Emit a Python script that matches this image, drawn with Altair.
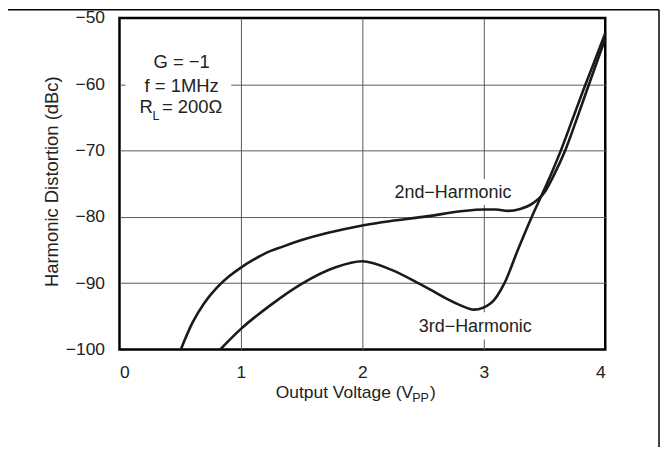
import altair as alt
import pandas as pd

# ---------------- data ----------------
x_ticks = [0, 1, 2, 3, 4]
y_ticks = [-100, -90, -80, -70, -60, -50]

h2_v = [0.505, 0.60, 0.70, 0.80, 0.90, 1.00, 1.10, 1.20, 1.35, 1.50, 2.00, 2.50,
        3.00, 3.10, 3.20, 3.30, 3.40, 3.50, 3.58, 3.67, 3.77, 3.866, 4.00]
h2_db = [-100.0, -96.0, -92.95, -90.7, -89.0, -87.65, -86.5, -85.5, -84.45, -83.5,
         -81.3, -80.0, -78.9, -78.9, -79.1, -78.8, -78.0, -76.3, -73.6, -70.0, -65.0, -60.0, -53.1]

h3_v = [0.83, 1.00, 1.23, 1.50, 1.78, 2.00, 2.24, 2.51, 2.79, 2.92, 3.06,
        3.17, 3.28, 3.39, 3.48, 3.56, 3.63, 3.73, 3.825, 3.91, 4.00]
h3_db = [-100.0, -96.9, -93.5, -90.1, -87.6, -86.7, -88.0, -90.5, -93.2, -94.0, -93.0,
         -90.0, -85.0, -80.2, -76.6, -73.3, -70.2, -65.3, -60.6, -56.6, -52.3]

curve_labels = ["2nd\u2212Harmonic", "3rd\u2212Harmonic"]
curve_label_v = [2.746, 2.93]
curve_label_db = [-77.2, -97.3]

cond_text = ["G = \u22121", "f = 1MHz"]
cond_v = [0.512, 0.512]
cond_db = [-57.5, -61.1]

rl_text = ["R", "L", "= 200\u03a9"]
rl_v = [0.164, 0.272, 0.35]
rl_db = [-64.4, -65.4, -64.4]
rl_size = [18.5, 12.5, 18.5]

# white backgrounds behind the labels (data units)
box_x0 = [0.05, 2.27, 2.45]
box_x1 = [0.92, 3.25, 3.40]
box_y0 = [-55.0, -74.3, -94.4]
box_y1 = [-65.0, -78.2, -98.5]

# ---------------- frames ----------------
curves = pd.concat([
    pd.DataFrame({"v": h2_v, "db": h2_db, "s": "2nd"}),
    pd.DataFrame({"v": h3_v, "db": h3_db, "s": "3rd"}),
])
labels_df = pd.DataFrame({"t": curve_labels, "v": curve_label_v, "db": curve_label_db})
cond_df = pd.DataFrame({"t": cond_text, "v": cond_v, "db": cond_db})
rl_df = pd.DataFrame({"t": rl_text, "v": rl_v, "db": rl_db, "fs": rl_size})
box_df = pd.DataFrame({"v": box_x0, "v2": box_x1, "db": box_y0, "db2": box_y1})

FONT = "Liberation Sans"
TXT = "#222222"

edge_x = {"condition": {"test": "datum.value == 0 || datum.value == 4", "value": 0}, "value": 1}
edge_y = {"condition": {"test": "datum.value == -100 || datum.value == -50", "value": 0}, "value": 1}

x_axis = alt.Axis(values=x_ticks, title=None, grid=True, ticks=False, domain=False,
                  labelFontSize=17.5, labelPadding=14, labelColor=TXT, labelFont=FONT,
                  gridColor="#5a5a5a", gridWidth=1, gridOpacity=edge_x)
y_axis = alt.Axis(values=y_ticks, title="Harmonic Distortion (dBc)", grid=True, ticks=False,
                  domain=False, labelFontSize=17.5, labelPadding=15, labelColor=TXT,
                  labelFont=FONT, labelExpr="replace(datum.label, '-', '\u2212')",
                  gridColor="#5a5a5a", gridWidth=1, gridOpacity=edge_y,
                  titleFontSize=18.5, titleFont=FONT, titleFontWeight="normal",
                  titleColor=TXT, titleAngle=-90, titleX=-62, titleY=164,
                  titleAlign="center", titleBaseline="alphabetic")

xs = alt.Scale(domain=[0, 4], nice=False, zero=False)
ys = alt.Scale(domain=[-100, -50], nice=False, zero=False)

X = alt.X("v:Q", scale=xs, axis=x_axis)
Y = alt.Y("db:Q", scale=ys, axis=y_axis)

boxes = alt.Chart(box_df).mark_rect(fill="white", stroke=None).encode(
    x=X, x2="v2:Q", y=Y, y2="db2:Q")

lines = alt.Chart(curves).mark_line(color="#1a1a1a", strokeWidth=2.6,
                                    interpolate="monotone").encode(
    x=X, y=Y, detail="s:N")

lab = alt.Chart(labels_df).mark_text(font=FONT, fontSize=18, color=TXT, align="center",
                                     baseline="alphabetic").encode(x=X, y=Y, text="t:N")
cond = alt.Chart(cond_df).mark_text(font=FONT, fontSize=18.5, color=TXT, align="center",
                                    baseline="alphabetic").encode(x=X, y=Y, text="t:N")
rl = alt.Chart(rl_df).mark_text(font=FONT, color=TXT, align="left",
                                baseline="alphabetic").encode(
    x=X, y=Y, text="t:N", size=alt.Size("fs:Q", scale=None, legend=None))

one = alt.Data(values=[{}])
xt1 = alt.Chart(one).mark_text(text="Output Voltage (V", font=FONT, fontSize=17.5, color=TXT,
                               align="right", baseline="alphabetic").encode(
    x=alt.value(295), y=alt.value(382))
xt2 = alt.Chart(one).mark_text(text="PP", font=FONT, fontSize=12.5, color=TXT,
                               align="left", baseline="alphabetic").encode(
    x=alt.value(294), y=alt.value(386))
xt3 = alt.Chart(one).mark_text(text=")", font=FONT, fontSize=17.5, color=TXT,
                               align="left", baseline="alphabetic").encode(
    x=alt.value(312), y=alt.value(382))

top_rule = alt.Chart(one).mark_rule(color="black", strokeWidth=1.5).encode(
    x=alt.value(-112), x2=alt.value(542), y=alt.value(-8.2))
right_rule = alt.Chart(one).mark_rule(color="black", strokeWidth=1.5).encode(
    x=alt.value(542), y=alt.value(-8.2), y2=alt.value(431))

chart = alt.layer(boxes, lines, lab, cond, rl, xt1, xt2, xt3, top_rule, right_rule).properties(
    width=488, height=333,
    autosize=alt.AutoSizeParams(type="none"),
    padding={"left": 112, "top": 9, "right": 56, "bottom": 98},
    background="white",
).configure_view(stroke="black", strokeWidth=2.5)

chart.save("out.html", embed_options={"renderer": "svg", "actions": False})
